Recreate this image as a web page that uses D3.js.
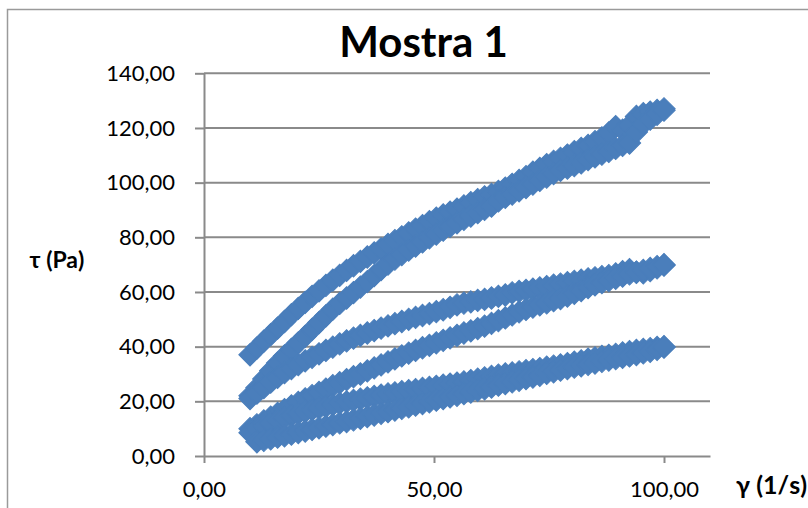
<!DOCTYPE html>
<html>
<head>
<meta charset="utf-8">
<script src="https://cdn.jsdelivr.net/npm/d3@7"></script>
<style>
  body { margin: 0; background: #ffffff; }
  svg { display: block; }
  text { font-family: Lato, "Open Sans", "DejaVu Sans", sans-serif; fill: #000; }
</style>
</head>
<body>
<svg id="chart" width="808" height="508"></svg>
<script>
// Shear rate γ (1/s) at which the stress was recorded
const shearRate = [10, 11.5, 13, 14.5, 16, 17.5, 19, 20.5, 22, 23.5, 25, 26.5, 28, 29.5, 31, 32.5, 34, 35.5, 37, 38.5,
  40, 41.5, 43, 44.5, 46, 47.5, 49, 50.5, 52, 53.5, 55, 56.5, 58, 59.5, 61, 62.5, 64, 65.5, 67, 68.5,
  70, 71.5, 73, 74.5, 76, 77.5, 79, 80.5, 82, 83.5, 85, 86.5, 88, 89.5, 91, 92.5, 94, 95.5, 97, 98.5, 100];

// Shear stress τ (Pa), one array per ramp
const tauLoop1Upper = [37, 39.5, 42, 44.4, 46.8, 49.2, 51.7, 54, 56.2, 58.4, 60.4, 62.4, 64.3, 66.1, 67.9, 69.6, 71.2, 72.8, 74.3, 75.8,
  77.4, 78.8, 80.2, 81.6, 83, 84.3, 85.7, 87, 88.2, 89.2, 90.3, 91.5, 92.7, 93.8, 94.8, 95.7, 96.8, 98, 99.4, 100.8,
  102.2, 103.8, 105.2, 106.6, 107.8, 108.9, 110.1, 111.3, 112.5, 113.6, 115, 116.4, 118.2, 120.5, 119.2, 121, 124.2, 125.2, 125.8, 126.4, 127];

const tauLoop1Lower = [22, 25, 28.2, 31.2, 34, 36.6, 39, 41.4, 43.8, 46.3, 48.8, 51.3, 53.7, 55.8, 57.8, 59.8, 61.8, 63.8, 66, 68.2,
  70.2, 72, 73.7, 75.3, 76.8, 78.3, 79.8, 81.2, 82.6, 84, 85.3, 86.6, 87.8, 89, 90.2, 91.4, 93.3, 94.6, 95.8, 97,
  98.2, 99.5, 100.8, 102, 103.3, 104.5, 105.3, 106.2, 107.2, 108.4, 109.4, 110.4, 111.4, 112.5, 113.6, 114.5, 118.5, 121.5, 123.2, 125, 126.5];

const tauLoop2Upper = [21, 23, 25, 27, 28.8, 30.5, 32, 33.4, 34.8, 36.1, 37.4, 38.6, 39.8, 41, 42.1, 43.1, 44.1, 45, 45.9, 46.8,
  47.6, 48.4, 49.2, 50, 50.7, 51.4, 52.1, 52.8, 53.5, 54.4, 55.3, 55.9, 56.4, 56.9, 57.3, 57.8, 58.4, 58.9, 59.7, 60.2,
  60.6, 61, 61.5, 62, 62.5, 62.9, 63.4, 63.9, 64.3, 64.8, 65.2, 65.6, 66, 66.6, 67.4, 68.2, 67.3, 67, 67.8, 68.8, 69.8];

const tauLoop2Lower = [10, 11.4, 12.8, 14.2, 15.6, 17, 18.3, 19.6, 20.9, 22.1, 23.3, 24.5, 25.7, 26.8, 27.9, 29, 30, 31.1, 32.2, 33.3,
  34.4, 35.5, 36.6, 37.6, 38.6, 39.6, 40.5, 41.4, 42.3, 43.2, 44.1, 45, 45.8, 46.6, 47.5, 48.5, 49.5, 50.5, 51.6, 52.7,
  53.6, 54.5, 55.3, 56, 56.8, 57.6, 58.5, 59.5, 60.5, 61.6, 62.6, 63.4, 64.2, 65, 65.8, 66.6, 67.2, 67.9, 68.6, 69.3, 70];

const tauLoop3Upper = [8.5, 9.8, 11, 12.1, 13.1, 14, 14.8, 15.5, 16.2, 16.9, 17.5, 18.1, 18.7, 19.3, 19.8, 20.3, 20.8, 21.3, 21.8, 22.3,
  22.7, 23.1, 23.5, 23.9, 24.3, 24.7, 25.1, 25.5, 25.9, 26.3, 26.7, 27.1, 27.6, 28.1, 28.6, 29.1, 29.6, 30, 30.4, 30.8,
  31.2, 31.6, 32, 32.5, 32.9, 33.3, 33.8, 34.3, 34.8, 35.4, 35.9, 36.4, 36.8, 37.2, 37.7, 38.2, 38.6, 39, 39.3, 39.7, 40];

const tauLoop3Lower = [null, 5.2, 5.7, 6.3, 6.9, 7.4, 8, 8.6, 9.1, 9.7, 10.3, 10.9, 11.5, 12.1, 12.6, 13.2, 13.8, 14.4, 15, 15.6,
  16.2, 16.8, 17.4, 18, 18.6, 19.2, 19.8, 20.4, 21, 21.6, 22.2, 22.8, 23.4, 24, 24.6, 25.2, 25.9, 26.5, 27.1, 27.7,
  28.3, 28.9, 29.5, 30.2, 30.8, 31.4, 32, 32.5, 33, 33.5, 34, 34.6, 35.1, 35.6, 36.1, 36.6, 37.1, 37.7, 38.3, 39, 39.8];

const yTickValues = [0, 20, 40, 60, 80, 100, 120, 140];
const xTickValues = [0, 50, 100];

const chartTitle = "Mostra 1";
const yAxisTitle = "τ (Pa)";
const xAxisTitle = "γ (1/s)";

const ramps = [tauLoop1Upper, tauLoop1Lower, tauLoop2Upper, tauLoop2Lower, tauLoop3Upper, tauLoop3Lower];

// ---- drawing ----
const svg = d3.select("#chart");
const plot = { left: 204, right: 710, top: 73.3, bottom: 456 };

const x = d3.scaleLinear().domain([0, 110]).range([plot.left, plot.right]);
const y = d3.scaleLinear().domain([0, 140]).range([plot.bottom, plot.top]);
const fmt = d => d.toFixed(2).replace(".", ",");

const gridColor = "#8a8a8a";

// chart area frame
svg.append("rect")
  .attr("x", 7.5).attr("y", 9.5)
  .attr("width", 840).attr("height", 540)
  .attr("fill", "none").attr("stroke", "#9a9a9a").attr("stroke-width", 1.5);

// horizontal gridlines
svg.append("g").selectAll("line")
  .data(yTickValues.filter(v => v > 0))
  .join("line")
  .attr("x1", plot.left).attr("x2", plot.right)
  .attr("y1", d => y(d)).attr("y2", d => y(d))
  .attr("stroke", gridColor).attr("stroke-width", 2);

// y axis
const yAxis = svg.append("g")
  .attr("transform", `translate(${plot.left},0)`)
  .call(d3.axisLeft(y).tickValues(yTickValues).tickFormat(fmt)
    .tickSize(9).tickSizeOuter(0).tickPadding(20));

// x axis
const xAxis = svg.append("g")
  .attr("transform", `translate(0,${plot.bottom})`)
  .call(d3.axisBottom(x).tickValues(xTickValues).tickFormat(fmt)
    .tickSize(7).tickSizeOuter(0).tickPadding(18));

[yAxis, xAxis].forEach(g => {
  g.select(".domain").attr("stroke", gridColor).attr("stroke-width", 2);
  g.selectAll(".tick line").attr("stroke", gridColor).attr("stroke-width", 2);
  g.selectAll(".tick text")
    .attr("font-family", "Lato, 'Open Sans', sans-serif")
    .attr("font-size", 22)
    .attr("fill", "#000");
});

// data markers (diamonds)
const diamond = d3.symbol(d3.symbolSquare, 250);
const points = [];
ramps.forEach(series => {
  series.forEach((v, i) => {
    if (v !== null) points.push([shearRate[i], v]);
  });
});

svg.append("g").selectAll("path")
  .data(points)
  .join("path")
  .attr("d", diamond)
  .attr("transform", d => `translate(${x(d[0])},${y(d[1])}) rotate(45)`)
  .attr("fill", "#4a7ebb")
  .attr("stroke", "#4a7ebb")
  .attr("stroke-width", 1);

// titles
svg.append("text")
  .attr("x", 423.5).attr("y", 57)
  .attr("text-anchor", "middle")
  .attr("font-size", 42).attr("font-weight", 700)
  .text(chartTitle);

svg.append("text")
  .attr("x", 57).attr("y", 268)
  .attr("text-anchor", "middle")
  .attr("font-size", 23).attr("font-weight", 700)
  .text(yAxisTitle);

svg.append("text")
  .attr("x", 807).attr("y", 494)
  .attr("text-anchor", "end")
  .attr("font-size", 25).attr("font-weight", 700)
  .text(xAxisTitle);
</script>
</body>
</html>
